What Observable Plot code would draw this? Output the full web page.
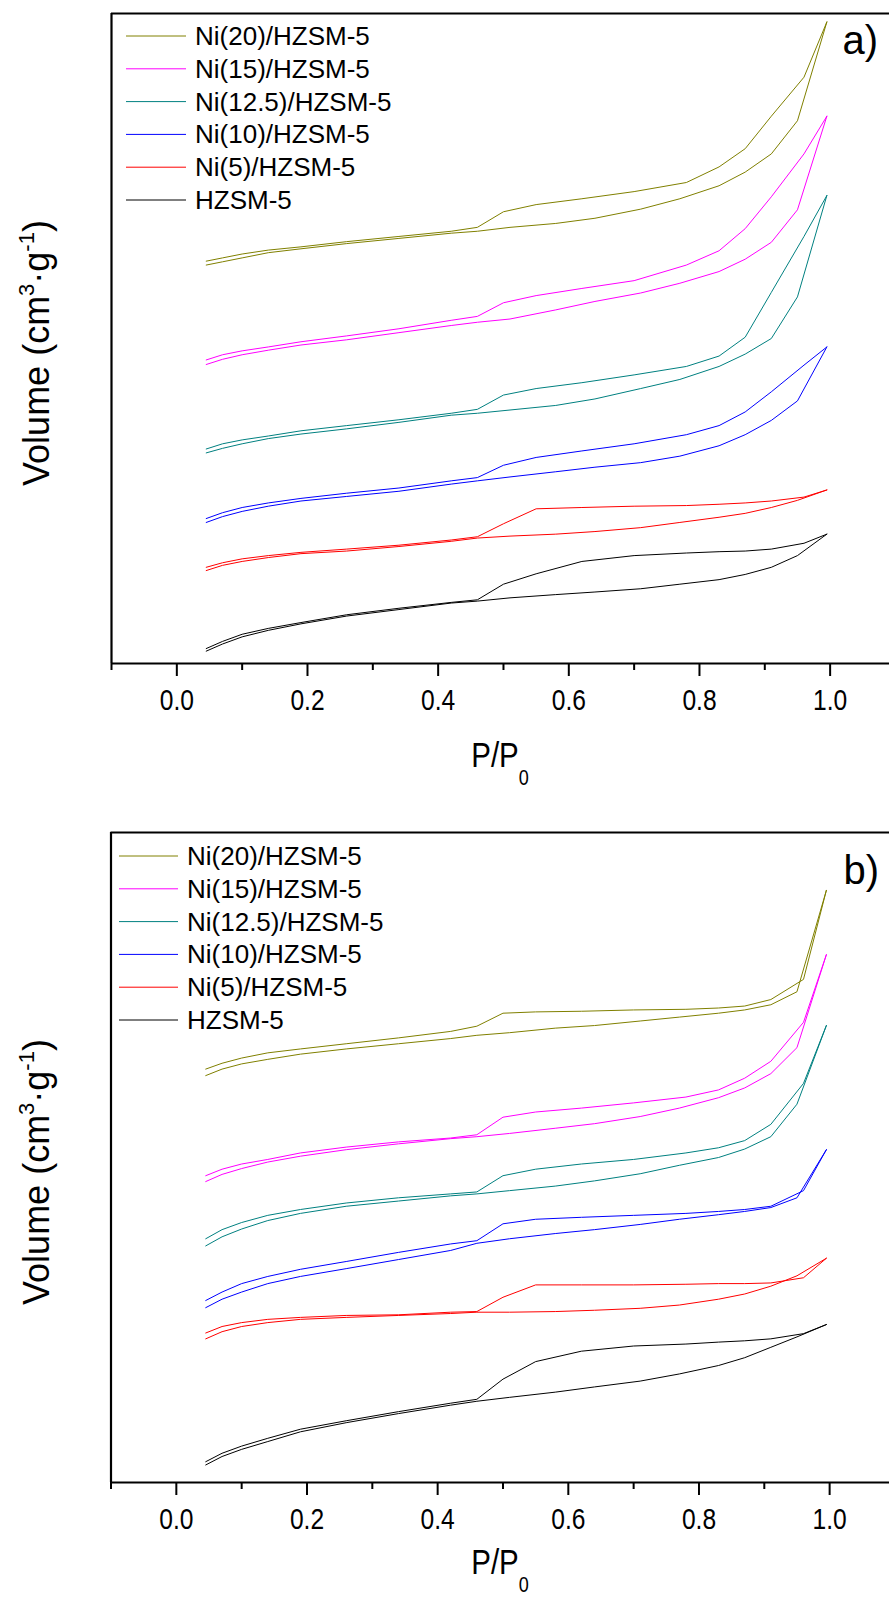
<!DOCTYPE html>
<html>
<head>
<meta charset="utf-8">
<script src="https://cdn.jsdelivr.net/npm/d3@7"></script>
<script src="https://cdn.jsdelivr.net/npm/@observablehq/plot@0.6"></script>
<style>
  html, body { margin: 0; padding: 0; background: #fff; }
  body { width: 889px; height: 1602px; overflow: hidden; position: relative; font-family: "Liberation Sans", Arial, sans-serif; }
  .panel { position: absolute; left: 0; }
  #overlay { position: absolute; left: 0; top: 0; pointer-events: none; }
</style>
</head>
<body>
<div id="pa" class="panel" style="top:0px"></div>
<div id="pb" class="panel" style="top:800px"></div>
<svg id="overlay" width="889" height="1602"></svg>
<script>
// ---------------- data ----------------
const SERIES = ["Ni(20)/HZSM-5", "Ni(15)/HZSM-5", "Ni(12.5)/HZSM-5", "Ni(10)/HZSM-5", "Ni(5)/HZSM-5", "HZSM-5"];
const COLORS = ["#808000", "#ff00ff", "#008080", "#0000ff", "#ff0000", "#000000"];

// relative pressure of adsorption / desorption points
const P_ADS = [0.045, 0.07, 0.10, 0.14, 0.19, 0.26, 0.34, 0.42, 0.46, 0.51, 0.58, 0.64, 0.71, 0.77, 0.83, 0.87, 0.91, 0.95, 0.995];
const P_DES = [0.995, 0.96, 0.91, 0.87, 0.83, 0.78, 0.70, 0.62, 0.55, 0.50, 0.46, 0.42, 0.34, 0.26, 0.19, 0.14, 0.10, 0.07, 0.045];

// panel a) volumes (arbitrary, stacked units)
const A20_ADS = [61.3, 61.8, 62.4, 63.2, 63.8, 64.6, 65.4, 66.2, 66.5, 67.1, 67.7, 68.5, 69.9, 71.5, 73.5, 75.6, 78.4, 83.5, 98.7];
const A20_DES = [98.7, 90.2, 84.2, 79.2, 76.4, 74.0, 72.6, 71.5, 70.6, 69.5, 67.1, 66.5, 65.7, 64.9, 64.1, 63.6, 63.0, 62.4, 61.9];
const A15_ADS = [46.0, 46.8, 47.5, 48.2, 49.0, 49.8, 50.9, 52.0, 52.5, 53.0, 54.4, 55.7, 57.0, 58.5, 60.3, 62.2, 64.8, 69.8, 84.2];
const A15_DES = [84.2, 78.4, 71.8, 66.9, 63.5, 61.3, 58.9, 57.7, 56.6, 55.5, 53.4, 52.8, 51.5, 50.4, 49.5, 48.7, 48.1, 47.5, 46.7];
const A125_ADS = [32.4, 33.1, 33.8, 34.6, 35.3, 36.1, 37.1, 38.2, 38.5, 39.0, 39.7, 40.7, 42.3, 43.7, 45.7, 47.6, 50.0, 56.4, 72.0];
const A125_DES = [72.0, 65.7, 57.1, 50.2, 47.3, 45.7, 44.4, 43.2, 42.3, 41.3, 39.1, 38.5, 37.5, 36.6, 35.8, 35.0, 34.4, 33.8, 33.0];
const A10_ADS = [21.7, 22.6, 23.4, 24.2, 25.0, 25.7, 26.5, 27.6, 28.1, 28.7, 29.5, 30.2, 30.9, 31.9, 33.5, 35.2, 37.4, 40.4, 48.7];
const A10_DES = [48.7, 45.9, 41.8, 38.7, 36.6, 35.2, 33.8, 32.7, 31.7, 30.5, 28.6, 28.1, 27.0, 26.2, 25.4, 24.7, 24.0, 23.2, 22.3];
const A5_ADS = [14.3, 15.1, 15.7, 16.3, 16.9, 17.3, 18.0, 18.8, 19.3, 19.6, 19.9, 20.3, 20.9, 21.7, 22.5, 23.1, 24.0, 25.1, 26.7];
const A5_DES = [26.7, 25.6, 25.0, 24.7, 24.5, 24.3, 24.2, 24.0, 23.8, 21.5, 19.5, 19.0, 18.2, 17.6, 17.1, 16.6, 16.1, 15.5, 14.8];
const A0_ADS = [1.9, 3.0, 4.1, 5.1, 6.1, 7.3, 8.3, 9.3, 9.6, 10.1, 10.6, 11.0, 11.5, 12.2, 12.9, 13.7, 14.8, 16.6, 19.9];
const A0_DES = [19.9, 18.5, 17.6, 17.3, 17.2, 17.0, 16.6, 15.7, 13.8, 12.2, 9.8, 9.4, 8.5, 7.5, 6.3, 5.4, 4.5, 3.4, 2.3];

// panel b) volumes
const B20_ADS = [62.6, 63.6, 64.4, 65.1, 65.9, 66.7, 67.5, 68.3, 68.8, 69.2, 69.9, 70.3, 71.0, 71.6, 72.2, 72.7, 73.5, 75.5, 91.1];
const B20_DES = [91.1, 77.4, 74.3, 73.3, 73.0, 72.8, 72.7, 72.5, 72.4, 72.2, 70.2, 69.4, 68.4, 67.5, 66.7, 66.1, 65.3, 64.5, 63.6];
const B15_ADS = [46.3, 47.4, 48.3, 49.3, 50.2, 51.2, 52.1, 52.9, 53.2, 53.7, 54.5, 55.2, 56.3, 57.6, 59.2, 60.7, 62.9, 66.9, 81.2];
const B15_DES = [81.2, 70.8, 64.8, 62.2, 60.4, 59.3, 58.4, 57.6, 57.0, 56.2, 53.5, 53.0, 52.4, 51.6, 50.7, 49.7, 49.0, 48.2, 47.2];
const B125_ADS = [36.4, 37.8, 39.0, 40.3, 41.4, 42.5, 43.3, 44.1, 44.4, 44.9, 45.6, 46.4, 47.5, 48.8, 50.0, 51.3, 53.2, 58.2, 70.3];
const B125_DES = [70.3, 61.4, 55.1, 52.6, 51.5, 50.7, 49.7, 49.0, 48.2, 47.2, 44.7, 44.4, 43.8, 43.0, 42.0, 41.1, 40.0, 38.9, 37.5];
const B10_ADS = [26.9, 28.2, 29.3, 30.6, 31.7, 32.9, 34.3, 35.7, 36.8, 37.5, 38.3, 38.9, 39.7, 40.5, 41.2, 41.7, 42.3, 43.8, 51.2];
const B10_DES = [51.2, 44.9, 42.5, 42.0, 41.7, 41.4, 41.1, 40.8, 40.5, 39.8, 37.2, 36.7, 35.4, 34.0, 32.8, 31.7, 30.6, 29.3, 28.0];
const B5_ADS = [22.1, 23.2, 24.0, 24.6, 25.1, 25.4, 25.7, 26.0, 26.2, 26.2, 26.3, 26.5, 26.8, 27.3, 28.2, 29.0, 30.2, 31.8, 34.5];
const B5_DES = [34.5, 31.5, 30.7, 30.6, 30.6, 30.5, 30.4, 30.4, 30.4, 28.5, 26.3, 26.2, 25.8, 25.7, 25.4, 25.1, 24.6, 24.0, 23.0];
const B0_ADS = [2.7, 4.0, 5.1, 6.3, 7.8, 9.2, 10.6, 11.9, 12.5, 13.1, 13.9, 14.7, 15.6, 16.7, 18.0, 19.2, 20.8, 22.4, 24.3];
const B0_DES = [24.3, 22.9, 22.1, 21.8, 21.6, 21.3, 21.0, 20.2, 18.6, 15.9, 12.8, 12.2, 10.9, 9.5, 8.2, 6.8, 5.6, 4.5, 3.2];

const MAJOR_TICKS = [0, 0.2, 0.4, 0.6, 0.8, 1.0];
const MINOR_TICKS = [-0.1, 0.1, 0.3, 0.5, 0.7, 0.9, 1.1];
const X_LABEL = "P/P";
const X_LABEL_SUB = "0";

// ---------------- build ----------------
function rowsFor(adsList, desList) {
  const rows = [];
  SERIES.forEach((s, i) => {
    adsList[i].forEach((v, j) => rows.push({s, key: s + "-ads", p: P_ADS[j], v}));
    desList[i].forEach((v, j) => rows.push({s, key: s + "-des", p: P_DES[j], v}));
  });
  return rows;
}

const rowsA = rowsFor([A20_ADS, A15_ADS, A125_ADS, A10_ADS, A5_ADS, A0_ADS],
                      [A20_DES, A15_DES, A125_DES, A10_DES, A5_DES, A0_DES]);
const rowsB = rowsFor([B20_ADS, B15_ADS, B125_ADS, B10_ADS, B5_ADS, B0_ADS],
                      [B20_DES, B15_DES, B125_DES, B10_DES, B5_DES, B0_DES]);

const SANS = '"Liberation Sans", Arial, sans-serif';
const SQUEEZE = 0.82; // condensed look of the original axis font
const UNIT = 653.3;   // px per 1.0 of P/P0

function squeezeTexts(svg) {
  svg.querySelectorAll("text").forEach(t => {
    const tr = t.getAttribute("transform");
    if (tr) {
      t.setAttribute("transform", tr + ` scale(${SQUEEZE},1)`);
    } else {
      const x = +(t.getAttribute("x") || 0);
      t.setAttribute("transform", `translate(${x},0) scale(${SQUEEZE},1) translate(${-x},0)`);
    }
  });
  return svg;
}

function panel(rows, height, top, bottom, left) {
  const svg = Plot.plot({
    width: 889,
    height,
    marginTop: top,
    marginBottom: bottom,
    marginLeft: left,
    marginRight: 0,
    style: {fontFamily: SANS, background: "transparent", overflow: "visible"},
    x: {domain: [-0.1, 1.1], range: [left, left + 1.2 * UNIT]},
    y: {domain: [0, 100], axis: null},
    color: {domain: SERIES, range: COLORS},
    marks: [
      Plot.line(rows, {x: "p", y: "v", z: "key", stroke: "s", strokeWidth: 1}),
      Plot.ruleY([0], {stroke: "#000", strokeWidth: 2.2}),
      Plot.ruleY([100], {stroke: "#000", strokeWidth: 2.2}),
      Plot.ruleX([-0.1], {stroke: "#000", strokeWidth: 2.2}),
      Plot.axisX(MAJOR_TICKS, {tickSize: 13, tickPadding: 12, fontSize: 30, fontFamily: SANS,
        strokeWidth: 2, tickFormat: d => d.toFixed(1), label: null, fill: "#000"}),
      Plot.axisX(MINOR_TICKS, {tickSize: 7, strokeWidth: 2, tickFormat: () => "", label: null})
    ]
  });
  return squeezeTexts(svg);
}

document.getElementById("pa").append(panel(rowsA, 800, 13, 137, 111));
document.getElementById("pb").append(panel(rowsB, 802, 32, 120, 110.5));

// ---------------- text overlay (labels, legends) ----------------
const ov = d3.select("#overlay");

function yLabel(cx, cy) {
  const t = ov.append("text")
    .attr("transform", `translate(${cx},${cy}) rotate(-90)`)
    .attr("text-anchor", "middle")
    .attr("font-family", SANS)
    .attr("font-size", 36)
    .attr("fill", "#000");
  t.append("tspan").text("Volume (cm");
  t.append("tspan").attr("dy", -15).attr("font-size", 22).text("3");
  t.append("tspan").attr("dy", 15).text("·g");
  t.append("tspan").attr("dy", -15).attr("font-size", 22).text("-1");
  t.append("tspan").attr("dy", 15).text(")");
}

function xLabel(cx, base) {
  const t = ov.append("text")
    .attr("transform", `translate(${cx},${base}) scale(${SQUEEZE},1)`)
    .attr("text-anchor", "middle")
    .attr("font-family", SANS)
    .attr("font-size", 36)
    .attr("fill", "#000");
  t.append("tspan").text(X_LABEL);
  t.append("tspan").attr("dy", 18).attr("font-size", 22).text(X_LABEL_SUB);
}

function legend(x0, x1, tx, y0, step) {
  SERIES.forEach((s, i) => {
    const y = y0 + i * step;
    ov.append("line").attr("x1", x0).attr("x2", x1).attr("y1", y).attr("y2", y)
      .attr("stroke", COLORS[i]).attr("stroke-width", 1);
    ov.append("text").attr("x", tx).attr("y", y + 9)
      .attr("font-family", SANS)
      .attr("font-size", 26).attr("fill", "#000").text(s);
  });
}

function tag(label, xr, base) {
  ov.append("text").attr("x", xr).attr("y", base).attr("text-anchor", "end")
    .attr("font-family", SANS)
    .attr("font-size", 40).attr("fill", "#000").text(label);
}

yLabel(49, 353);
yLabel(49, 1172);
xLabel(500, 767);
xLabel(500, 1574);
legend(126, 186, 195, 36, 32.8);
legend(119, 178, 187, 856, 32.8);
tag("a)", 878, 54);
tag("b)", 879, 884);
</script>
</body>
</html>
